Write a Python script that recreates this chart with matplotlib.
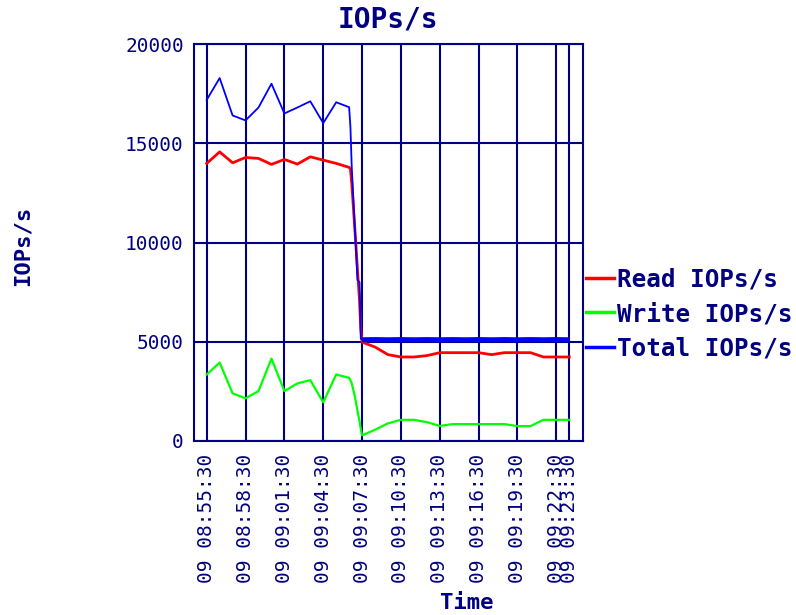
import datetime as dt
import matplotlib
matplotlib.use("Agg")
import matplotlib.pyplot as plt
import matplotlib.dates as mdates

# ---------------- data ----------------
base_time = dt.datetime(2000, 1, 9, 8, 55, 30)
minutes = [0, 1, 2, 3, 4, 5, 6, 7, 8, 9, 10, 11,
           11.1, 11.2, 11.35, 11.5, 11.65, 11.8, 11.9,
           12, 13, 14, 15, 16, 17, 18, 19, 20, 21, 22, 23, 24, 25, 26, 27, 28]
read_iops = [13985, 14565, 14015, 14283, 14235, 13935, 14185, 13950, 14317, 14150, 13985, 13785,
             13700, 13000, 11550, 10100, 8550, 7100, 5650,
             4983, 4733, 4350, 4233, 4233, 4300, 4450, 4450, 4450, 4450, 4350, 4450, 4450, 4450,
             4233, 4233, 4233]
write_iops = [3350, 3950, 2400, 2150, 2515, 4150, 2515, 2900, 3065, 1950, 3350, 3185,
              3050, 2900, 2500, 2050, 1500, 1000, 600,
              285, 567, 890, 1067, 1067, 950, 760, 850, 850, 850, 850, 850, 750, 750,
              1067, 1067, 1067]
total_iops = [17185, 18285, 16400, 16150, 16800, 18000, 16500, 16800, 17115, 16015, 17065, 16815,
              15800, 13800, 11900, 10000, 8100, 8000, 5150,
              5100, 5110, 5100, 5110, 5100, 5110, 5100, 5110, 5100, 5110, 5100, 5110, 5100, 5110,
              5100, 5110, 5100]
drop_end = 19  # index of first post-drop sample

tick_labels = ["09 08:55:30", "09 08:58:30", "09 09:01:30", "09 09:04:30", "09 09:07:30",
               "09 09:10:30", "09 09:13:30", "09 09:16:30", "09 09:19:30", "09 09:22:30",
               "09 09:23:30"]
y_ticks = [0, 5000, 10000, 15000, 20000]
series_names = ["Read IOPs/s", "Write IOPs/s", "Total IOPs/s"]

# ---------------- figure ----------------
NAVY = "#000080"
MONO = ["DejaVu Sans Mono"]

times = [base_time + dt.timedelta(minutes=m) for m in minutes]
tick_pos = [dt.datetime.strptime("2000-01-" + s, "%Y-%m-%d %H:%M:%S") for s in tick_labels]

fig = plt.figure(figsize=(7.96, 6.15), dpi=100)
fig.patch.set_facecolor("white")
ax = fig.add_axes([193.5 / 796, 1 - 441 / 615, (583 - 193.5) / 796, (441 - 44) / 615])

ax.plot(times, read_iops, color="#ff0000", lw=2.0, label=series_names[0], zorder=3)
ax.plot(times, write_iops, color="#00ff00", lw=1.6, label=series_names[1], zorder=3)
ax.plot(times[:drop_end + 1], total_iops[:drop_end + 1], color="#0000ff", lw=1.3,
        label=series_names[2], zorder=4)
ax.plot(times[drop_end:], total_iops[drop_end:], color="#0000ff", lw=3.6, zorder=4,
        solid_capstyle="butt")

ax.set_xlim(base_time - dt.timedelta(minutes=1.02), base_time + dt.timedelta(minutes=29.06))
ax.set_ylim(0, 20000)

ax.set_xticks(tick_pos)
ax.set_xticklabels(tick_labels, rotation=90, family=MONO, fontsize=14, color=NAVY)
ax.set_yticks(y_ticks)
ax.set_yticklabels([str(v) for v in y_ticks], family=MONO, fontsize=14, color=NAVY)
ax.tick_params(axis="both", length=0)
ax.tick_params(axis="x", pad=9)
ax.tick_params(axis="y", pad=7)

ax.grid(True, color=NAVY, lw=1.5)
ax.set_axisbelow(True)
for sp in ax.spines.values():
    sp.set_color(NAVY)
    sp.set_linewidth(1.5)

fig.text(387.5 / 796, 1 - 19 / 615, "IOPs/s", ha="center", va="center",
         family=MONO, fontweight="bold", fontsize=20, color=NAVY)
fig.text(23 / 796, 1 - 246 / 615, "IOPs/s", ha="center", va="center", rotation=90,
         family=MONO, fontweight="bold", fontsize=16, color=NAVY)
fig.text(466.5 / 796, 1 - 603 / 615, "Time", ha="center", va="center",
         family=MONO, fontweight="bold", fontsize=16, color=NAVY)

leg = fig.legend(loc="center left", bbox_to_anchor=(586 / 796, 1 - 314 / 615),
                 frameon=False, borderpad=0, borderaxespad=0,
                 handlelength=1.15, handletextpad=0.12, labelspacing=0.45,
                 prop={"family": MONO, "weight": "bold", "size": 17.5})
for txt in leg.get_texts():
    txt.set_color(NAVY)
for h in leg.legend_handles:
    h.set_linewidth(2.5)

fig.savefig("out.png", dpi=100, facecolor="white")
